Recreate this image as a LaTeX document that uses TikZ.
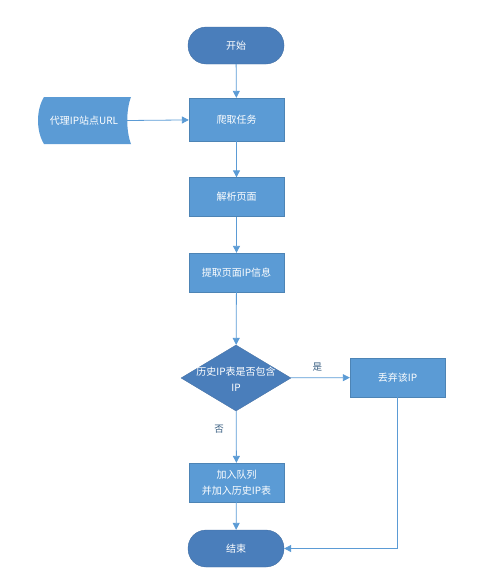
\documentclass[tikz,border=0pt]{standalone}
\usepackage{fontspec}
\setmainfont{Noto Sans CJK SC}
\usetikzlibrary{shapes.geometric,shapes.symbols,arrows.meta}
\definecolor{lightb}{HTML}{5B9BD5}
\definecolor{darkb}{HTML}{4A7EBB}
\tikzset{
  x=1pt,y=-1pt,
  base/.style={text=white,font=\fontsize{10}{16}\selectfont,align=center,inner sep=0pt},
  procbox/.style={base,rectangle,fill=lightb,draw=lightb!85!black,line width=0.3pt,minimum width=95pt,minimum height=39pt},
  term/.style={base,rectangle,rounded corners=18pt,fill=darkb,draw=darkb!85!black,line width=0.3pt,minimum width=96pt,minimum height=37pt},
  decide/.style={diamond,aspect=1.67,fill=darkb,draw=darkb!85!black,line width=0.3pt,minimum width=110pt,minimum height=66pt,inner sep=0pt},
  conn/.style={draw=lightb,line width=0.8pt,-{Triangle[length=7pt,width=7pt]}},
  lab/.style={text=lightb!60!black,font=\fontsize{9.5}{11}\selectfont,inner sep=0pt}
}
\begin{document}
\begin{tikzpicture}
\useasboundingbox (0,0) rectangle (481,584);
\node[term] (start) at (236,45.5) {开始};
% stored data shape
\fill[lightb] (44,97) -- (131,97) .. controls (126,110) and (126,131) .. (131,144) -- (44,144) .. controls (36,131) and (36,110) .. (44,97) -- cycle;
\node[base] (proxy) at (84,120.5) {代理IP站点URL};
\coordinate (proxyE) at (127,120.5);
\node[procbox,minimum height=43pt] (crawl) at (236.5,119.5) {爬取任务};
\node[procbox] (parse) at (236.5,197) {解析页面};
\node[procbox] (extract) at (236.5,272.5) {提取页面IP信息};
\node[decide,label={[base,yshift=-1pt]center:历史IP表是否包含\\IP}] (dec) at (236,378) {};
\node[procbox] (drop) at (397.5,377.5) {丢弃该IP};
\node[procbox] (queue) at (236.5,482.5) {加入队列\\并加入历史IP表};
\node[term] (end) at (236,548.5) {结束};
\coordinate (corner) at (397.5,548.5);
\draw[conn] (start) -- (crawl);
\draw[conn] (proxyE) -- (crawl);
\draw[conn] (crawl) -- (parse);
\draw[conn] (parse) -- (extract);
\draw[conn] (extract) -- (dec);
\draw[conn] (dec) -- node[lab,above=6pt,pos=0.45]{是} (drop);
\draw[conn] (dec) -- node[lab,left=12pt,pos=0.35]{否} (queue);
\draw[conn] (queue) -- (end);
\draw[conn] (drop.south) -- (corner) -- (end.east);
\end{tikzpicture}
\end{document}
